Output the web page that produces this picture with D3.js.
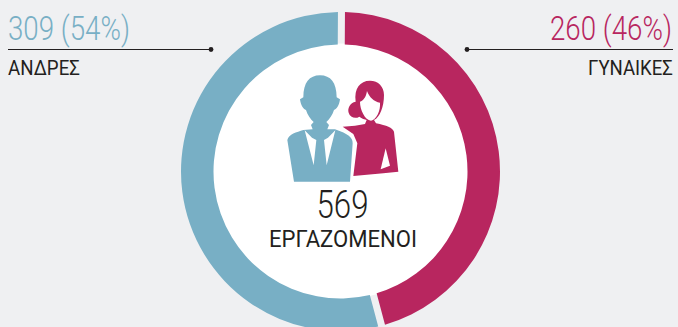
<!DOCTYPE html>
<meta charset="utf-8">
<style>
html, body { margin: 0; padding: 0; background: #eff0f2; }
svg { display: block; }
text { font-family: Roboto, sans-serif; }
</style>
<body>
<svg width="678" height="327"></svg>
<script src="https://d3js.org/d3.v7.min.js"></script>
<script>
// order is clockwise from the top
var categories = ["ΓΥΝΑΙΚΕΣ", "ΑΝΔΡΕΣ"];
var values = [260, 309];
var valueLabels = ["260 (46%)", "309 (54%)"];
var total = "569";
var totalLabel = "ΕΡΓΑΖΟΜΕΝΟΙ";

var blue = "#78afc5", red = "#b8265f", ink = "#231f20";
var color = d3.scaleOrdinal().domain(categories).range([red, blue]);

var svg = d3.select("svg"),
    cx = 340.5, cy = 171.5, outer = 159.5, inner = 127;

svg.append("rect").attr("width", 678).attr("height", 327).attr("fill", "#eff0f2");

var pie = d3.pie().sort(null).padAngle(0.044)
  .startAngle(0.006).endAngle(2 * Math.PI + 0.006)(values);
var arc = d3.arc().innerRadius(inner).outerRadius(outer).padRadius(outer);

var g = svg.append("g").attr("transform", "translate(" + cx + "," + cy + ")");
g.append("circle").attr("r", inner + 1).attr("fill", "#fff");
g.selectAll("path")
  .data(pie)
  .enter().append("path")
    .attr("d", arc)
    .attr("fill", function(d, i) { return color(categories[i]); });

// icons, drawn in the coordinates of a 3x crop
var icon = svg.append("g").attr("transform", "translate(270,60) scale(0.3333)");
// woman
icon.append("path").attr("fill", red)
  .attr("d", "M300,62 C270,62 252,85 257,125 C240,128 232,145 236,158 C240,172 256,178 268,170 C276,176 284,178 290,180 L285,192 L255,197 L218,200 L250,222 L262,250 L250,348 L340,340 L385,335 L372,215 C368,203 350,197 318,190 L312,180 C330,172 342,140 342,105 C342,80 325,62 300,62 Z");
icon.append("path").attr("fill", "#fff")
  .attr("d", "M291,93 C288,112 280,122 270,125 C270,150 285,180 303,182 C320,178 332,152 330,128 C312,125 298,112 291,93 Z");
icon.append("path").attr("fill", "#fff")
  .attr("d", "M347,265 L360,317 L332,328 Z");
// man
var man = "M150,46 C118,46 100,68 100,112 L90,118 C92,135 100,148 108,150 C112,165 122,178 131,186 L123,195 L128,208 L100,210 C80,217 56,222 52,240 L72,365 L240,365 L248,250 C248,232 235,222 195,208 L172,208 L177,195 L169,186 C178,178 188,165 192,150 C200,148 208,135 210,118 L200,112 C200,68 182,46 150,46 Z";
icon.append("path").attr("d", man).attr("fill", "#fff").attr("stroke", "#fff").attr("stroke-width", 10);
icon.append("path").attr("d", man).attr("fill", blue);
icon.append("path").attr("fill", "#fff")
  .attr("d", "M104,211 L126,233 L139,240 L131,316 Z M196,211 L174,233 L162,240 L170,316 Z");

// the original font is narrower than Roboto, so squeeze each text to its width
function label(str, x, y, width, size, weight, col) {
  var t = svg.append("text")
    .attr("font-size", size).attr("font-weight", weight).attr("fill", col)
    .text(str);
  var s = width / t.node().getComputedTextLength();
  t.attr("transform", "translate(" + x + "," + y + ") scale(" + s + ",1)");
}

function sideLabel(lineX0, lineX1, dotX, valueX, nameX, nameWidth, name, value, col) {
  svg.append("line")
    .attr("x1", lineX0).attr("x2", lineX1).attr("y1", 49.5).attr("y2", 49.5)
    .attr("stroke", ink).attr("stroke-width", 1.2);
  svg.append("circle").attr("cx", dotX).attr("cy", 49.5).attr("r", 2.4).attr("fill", ink);
  label(value, valueX, 40, 122, 33, 300, col);
  label(name, nameX, 75, nameWidth, 21, 400, ink);
}
sideLabel(8, 211, 211, 8, 8, 72, categories[1], valueLabels[1], blue);
sideLabel(467, 673, 467, 550, 588, 85, categories[0], valueLabels[0], red);

// centre
label(total, 316.5, 217.5, 52, 38, 300, ink);
label(totalLabel, 269, 247, 148, 23.5, 400, ink);
</script>
</body>
